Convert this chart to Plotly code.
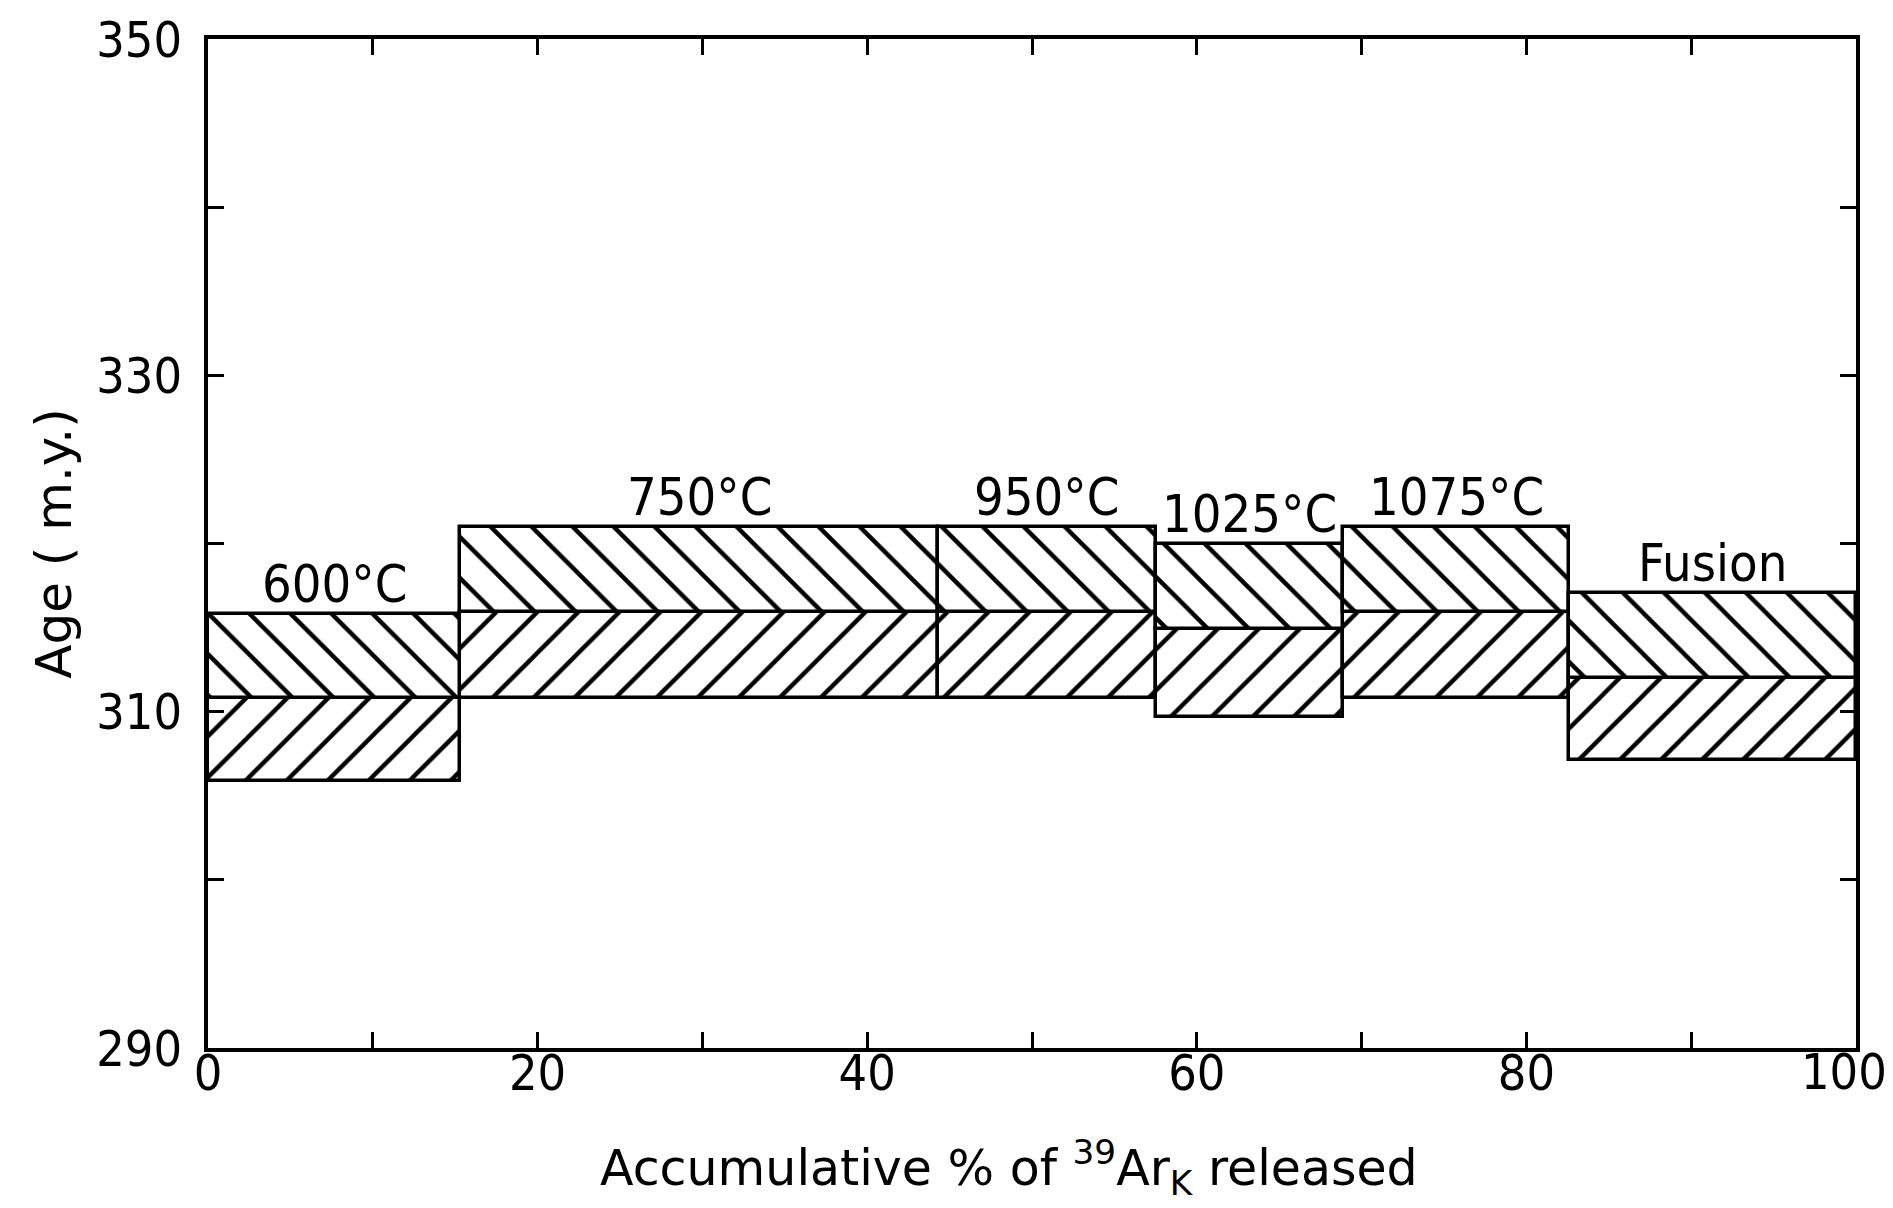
import plotly.graph_objects as go

# Step data
step_labels = ["600°C", "750°C", "950°C", "1025°C", "1075°C", "Fusion"]
cum_start = [0.0, 15.3, 44.3, 57.5, 68.9, 82.6]
cum_end = [15.3, 44.3, 57.5, 68.9, 82.6, 100.0]
age = [310.8, 315.9, 315.9, 314.9, 315.9, 312.0]
err_plus = [5.0, 5.1, 5.1, 5.1, 5.1, 5.05]
err_minus = [4.9, 5.1, 5.1, 5.2, 5.1, 4.9]

x_ticks = [0, 20, 40, 60, 80, 100]
y_ticks = [290, 310, 330, 350]

FONT = "DejaVu Sans Condensed, DejaVu Sans, Liberation Sans Narrow, sans-serif"
FONT_W = "DejaVu Sans, sans-serif"

centers = [(a + b) / 2 for a, b in zip(cum_start, cum_end)]
widths = [b - a for a, b in zip(cum_start, cum_end)]

fig = go.Figure()

pat = dict(fgcolor="black", bgcolor="white", size=29, solidity=0.15,
           fillmode="replace", fgopacity=1)

# lower halves, "/" hatching
fig.add_trace(go.Bar(
    x=centers, width=widths,
    base=[a - e for a, e in zip(age, err_minus)], y=err_minus,
    marker=dict(color="white", line=dict(color="black", width=3.5),
                pattern=dict(shape="/", **pat)),
    showlegend=False, hoverinfo="skip",
))
# upper halves, "\" hatching
fig.add_trace(go.Bar(
    x=centers, width=widths,
    base=age, y=err_plus,
    marker=dict(color="white", line=dict(color="black", width=3.5),
                pattern=dict(shape="\\", **pat)),
    showlegend=False, hoverinfo="skip",
))

for c, a, e, lab in zip(centers, age, err_plus, step_labels):
    fig.add_annotation(x=c, y=a + e, text=lab, showarrow=False,
                       yanchor="bottom", yshift=-2,
                       font=dict(family=FONT, size=52, color="black"))

# last x tick label drawn as annotation so it stays inside the page
fig.add_annotation(x=x_ticks[-1], y=0, xref="x", yref="paper",
                   text=str(x_ticks[-1]), showarrow=False,
                   xanchor="center", yanchor="middle", xshift=-12, yshift=-24,
                   font=dict(family=FONT, size=50, color="black"))

# x-axis title
fig.add_annotation(xref="paper", yref="paper", x=0.486, y=0, yshift=-119,
                   xanchor="center", yanchor="middle", showarrow=False,
                   text="Accumulative % of <sup>39</sup>Ar<sub>K</sub> released",
                   font=dict(family=FONT_W, size=49, color="black"))

fig.update_layout(
    barmode="overlay",
    width=1893, height=1208,
    margin=dict(l=208, r=37, t=39, b=160, autoexpand=False),
    paper_bgcolor="white", plot_bgcolor="white",
    font=dict(family=FONT, size=48, color="black"),
    bargap=0,
)
fig.update_xaxes(
    range=[0, 100], tickvals=x_ticks,
    ticktext=[str(v) for v in x_ticks[:-1]] + [""],
    ticks="inside", ticklen=16, tickwidth=3, tickcolor="black",
    minor=dict(dtick=10, tick0=0, ticks="inside", ticklen=16, tickwidth=3, tickcolor="black"),
    showline=True, linewidth=4, linecolor="black", mirror="ticks",
    showgrid=False, zeroline=False, automargin=False,
    tickfont=dict(family=FONT, size=50),
    ticklabeloverflow="allow", ticklabelstandoff=-22,
)
fig.update_yaxes(
    range=[290, 350], tickvals=y_ticks, ticktext=[str(v) for v in y_ticks],
    ticks="inside", ticklen=16, tickwidth=3, tickcolor="black",
    minor=dict(dtick=10, tick0=290, ticks="inside", ticklen=16, tickwidth=3, tickcolor="black"),
    showline=True, linewidth=4, linecolor="black", mirror="ticks",
    showgrid=False, zeroline=False, automargin=False,
    tickfont=dict(family=FONT, size=50),
    ticklabeloverflow="allow", ticklabelstandoff=12,
    title=dict(text="Age ( m.y.)", font=dict(family=FONT_W, size=50), standoff=10),
)

fig.write_html("out.html")
